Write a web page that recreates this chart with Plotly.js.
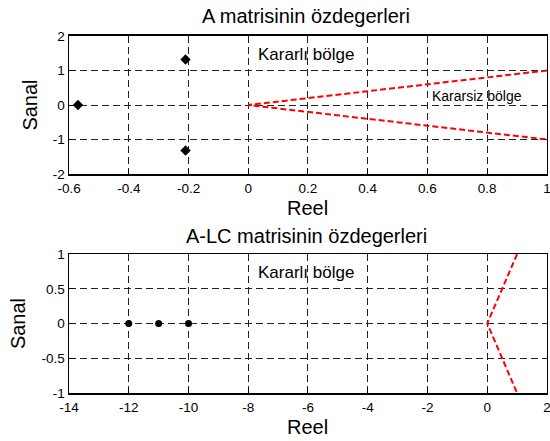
<!DOCTYPE html>
<html><head><meta charset="utf-8">
<script src="https://cdn.plot.ly/plotly-3.0.1.min.js"></script>
<style>body{margin:0;padding:0;background:#fff}#c{width:550px;height:441px}</style>
</head><body><div id="c"></div>
<script>
// Top subplot: eigenvalues of A
const eigA_re = [-0.57, -0.21, -0.21];
const eigA_im = [0, 1.32, -1.32];
// Unstable boundary lines (top)
const bndA_x = [1, 0, 1];
const bndA_y = [1, 0, -1];
// Bottom subplot: eigenvalues of A-LC
const eigALC_re = [-12, -11, -10];
const eigALC_im = [0, 0, 0];
const bndB_x = [1, 0, 1];
const bndB_y = [1, 0, -1];
// Tick labels
const xTicksTop = [-0.6, -0.4, -0.2, 0, 0.2, 0.4, 0.6, 0.8, 1];
const yTicksTop = [-2, -1, 0, 1, 2];
const xTicksBot = [-14, -12, -10, -8, -6, -4, -2, 0, 2];
const yTicksBot = [-1, -0.5, 0, 0.5, 1];

const F = 'Arial, "Liberation Sans", sans-serif';
const traces = [
  {x: eigA_re, y: eigA_im, mode: 'markers', type: 'scatter', xaxis: 'x', yaxis: 'y',
   marker: {symbol: 'diamond', size: 8, color: 'black'}, hoverinfo: 'skip'},
  {x: bndA_x, y: bndA_y, mode: 'lines', type: 'scatter', xaxis: 'x', yaxis: 'y',
   line: {color: 'red', width: 2, dash: '6px,3px'}, hoverinfo: 'skip'},
  {x: eigALC_re, y: eigALC_im, mode: 'markers', type: 'scatter', xaxis: 'x2', yaxis: 'y2',
   marker: {symbol: 'circle', size: 7, color: 'black'}, hoverinfo: 'skip'},
  {x: bndB_x, y: bndB_y, mode: 'lines', type: 'scatter', xaxis: 'x2', yaxis: 'y2',
   line: {color: 'red', width: 2, dash: '6px,3px'}, hoverinfo: 'skip'}
];

const lbl = v => String(v);
function ax(extra) {
  return Object.assign({
    showline: true, mirror: true, linecolor: 'black', linewidth: 1.5,
    showgrid: true, gridcolor: '#222', griddash: '7px,4px', gridwidth: 1,
    zeroline: false, ticks: 'inside', ticklen: 5, tickcolor: 'black',
    ticklabeloverflow: 'allow',
    tickfont: {family: F, size: 13.5, color: 'black'}, fixedrange: true
  }, extra);
}
const tf = {family: F, size: 20, color: 'black'};

const layout = {
  width: 550, height: 441,
  margin: {l: 0, r: 0, t: 0, b: 0},
  paper_bgcolor: 'white', plot_bgcolor: 'white',
  showlegend: false,
  font: {family: F, color: 'black'},
  xaxis: ax({domain: [0.1255, 0.9945], anchor: 'y', range: [-0.6, 1.00001], tickvals: xTicksTop,
    ticktext: xTicksTop.map(lbl), ticklabelstandoff: 1}),
  yaxis: ax({domain: [0.6054, 0.9184], anchor: 'x', range: [-2.00001, 2.00001], tickvals: yTicksTop,
    ticktext: yTicksTop.map(lbl),
    title: {text: 'Sanal', font: tf, standoff: 10}}),
  xaxis2: ax({domain: [0.1255, 0.9945], anchor: 'y2', range: [-14, 2.0001], tickvals: xTicksBot,
    ticktext: xTicksBot.map(lbl), ticklabelstandoff: 1}),
  yaxis2: ax({domain: [0.1088, 0.424], anchor: 'x2', range: [-1.00001, 1.00001], tickvals: yTicksBot,
    ticktext: yTicksBot.map(lbl),
    title: {text: 'Sanal', font: tf, standoff: 10}}),
  annotations: [
    {text: 'A matrisinin özdegerleri', xref: 'paper', yref: 'paper', x: 306/550, y: 1 - 16/441,
     showarrow: false, font: tf, xanchor: 'center', yanchor: 'middle'},
    {text: 'A-LC matrisinin özdegerleri', xref: 'paper', yref: 'paper', x: 306/550, y: 1 - 236/441,
     showarrow: false, font: tf, xanchor: 'center', yanchor: 'middle'},
    {text: 'Reel', xref: 'paper', yref: 'paper', x: 307/550, y: 1 - 208/441, borderpad: 0,
     showarrow: false, font: tf, xanchor: 'center', yanchor: 'middle'},
    {text: 'Reel', xref: 'paper', yref: 'paper', x: 307/550, y: 1 - 427/441, borderpad: 0,
     showarrow: false, font: tf, xanchor: 'center', yanchor: 'middle'},
    {text: 'Kararlı bölge', xref: 'x', yref: 'y', x: 0.025, y: 1.45, showarrow: false,
     xanchor: 'left', yanchor: 'middle', font: {family: F, size: 17, color: 'black'}},
    {text: 'Kararsiz bölge', xref: 'x', yref: 'y', x: 0.61, y: 0.25, showarrow: false,
     xanchor: 'left', yanchor: 'middle', font: {family: F, size: 14, color: 'black'}},
    {text: 'Kararlı bölge', xref: 'x2', yref: 'y2', x: -7.75, y: 0.73, showarrow: false,
     xanchor: 'left', yanchor: 'middle', font: {family: F, size: 17, color: 'black'}}
  ]
};
Plotly.newPlot('c', traces, layout, {staticPlot: true, displayModeBar: false});
</script></body></html>
